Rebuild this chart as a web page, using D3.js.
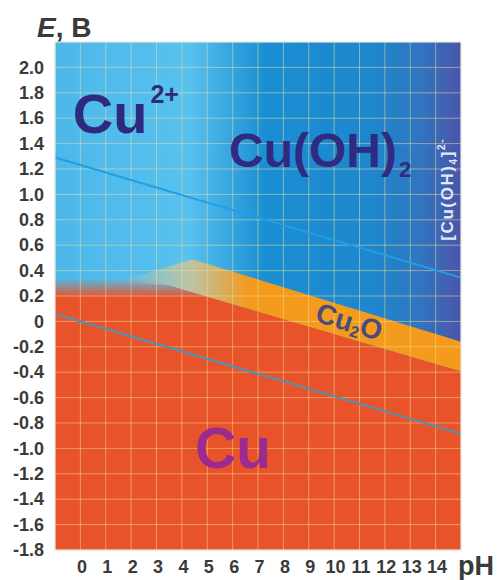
<!DOCTYPE html>
<html>
<head>
<meta charset="utf-8">
<script src="https://cdn.jsdelivr.net/npm/d3@7"></script>
<style>
  body { margin: 0; background: #fff; }
  svg { display: block; font-family: "Liberation Sans", Arial, sans-serif; }
</style>
</head>
<body>
<div id="chart"></div>
<script>
// Pourbaix diagram for copper, E (V) vs pH

var phTicks = [0, 1, 2, 3, 4, 5, 6, 7, 8, 9, 10, 11, 12, 13, 14];
var eTicks = [2.0, 1.8, 1.6, 1.4, 1.2, 1.0, 0.8, 0.6, 0.4, 0.2, 0, -0.2, -0.4, -0.6, -0.8, -1.0, -1.2, -1.4, -1.6, -1.8];
var eLabels = ["2.0", "1.8", "1.6", "1.4", "1.2", "1.0", "0.8", "0.6", "0.4", "0.2", "0", "-0.2", "-0.4", "-0.6", "-0.8", "-1.0", "-1.2", "-1.4", "-1.6", "-1.8"];
var gridPh = [-1, 0, 1, 2, 3, 4, 5, 6, 7, 8, 9, 10, 11, 12, 13, 14, 15];
var gridE = [2.2, 2.0, 1.8, 1.6, 1.4, 1.2, 1.0, 0.8, 0.6, 0.4, 0.2, 0, -0.2, -0.4, -0.6, -0.8, -1.0, -1.2, -1.4, -1.6, -1.8];

// region boundaries [pH, E]
var cuTop = [[-1, 0.35], [2.4, 0.35], [15, -0.395]];
var cu2oRegion = [[1.5, 0.31], [4.4, 0.49], [15, -0.16], [15, -0.395], [3.5, 0.283]];
// water stability lines
var o2Line = [[-1, 1.29], [15, 0.345]];
var h2Line = [[-1, 0.059], [15, -0.885]];

// background colour along pH
var bgStops = [[-1, "#4cb8ea"], [4.3, "#57c1ef"], [7.3, "#1a8ed3"], [11.5, "#1e87cd"], [13.3, "#2e76c1"], [15, "#4a56aa"]];

var labels = [
  {text: "Cu", sup: "2+", ph: -0.3, e: 1.48, size: 56, color: "#2e2a80"},
  {text: "Cu(OH)", sub: "2", ph: 5.86, e: 1.216, size: 48, color: "#302a82"},
  {text: "Cu", ph: 4.52, e: -1.154, size: 57, color: "#9c2b8f"}
];

var width = 499, height = 580;
var x = d3.scaleLinear().domain([-1, 15]).range([55, 461]);
var y = d3.scaleLinear().domain([-1.8, 2.2]).range([550, 42]);

var svg = d3.select("#chart").append("svg")
  .attr("width", width).attr("height", height);

var defs = svg.append("defs");

var bgGrad = defs.append("linearGradient").attr("id", "bg")
  .attr("gradientUnits", "userSpaceOnUse")
  .attr("x1", x(-1)).attr("x2", x(15)).attr("y1", 0).attr("y2", 0);
bgGrad.selectAll("stop").data(bgStops).enter().append("stop")
  .attr("offset", d => (x(d[0]) - x(-1)) / (x(15) - x(-1)))
  .attr("stop-color", d => d[1]);

var redGrad = defs.append("linearGradient").attr("id", "redfade")
  .attr("gradientUnits", "userSpaceOnUse")
  .attr("x1", 0).attr("x2", 0).attr("y1", y(0.34)).attr("y2", y(0.19));
redGrad.append("stop").attr("offset", 0).attr("stop-color", "#e9532a").attr("stop-opacity", 0);
redGrad.append("stop").attr("offset", 1).attr("stop-color", "#e9532a").attr("stop-opacity", 1);

var oxGrad = defs.append("linearGradient").attr("id", "oxfade")
  .attr("gradientUnits", "userSpaceOnUse")
  .attr("x1", x(1.5)).attr("x2", x(6.6)).attr("y1", 0).attr("y2", 0);
oxGrad.append("stop").attr("offset", 0).attr("stop-color", "#f5cc88").attr("stop-opacity", 0);
oxGrad.append("stop").attr("offset", 0.57).attr("stop-color", "#f3c47c").attr("stop-opacity", 0.68);
oxGrad.append("stop").attr("offset", 1).attr("stop-color", "#f49a1c").attr("stop-opacity", 1);

var line = d3.line().x(d => x(d[0])).y(d => y(d[1]));

// background (Cu2+, Cu(OH)2, [Cu(OH)4]2-)
svg.append("rect")
  .attr("x", x(-1)).attr("y", y(2.2))
  .attr("width", x(15) - x(-1)).attr("height", y(-1.8) - y(2.2))
  .attr("fill", "url(#bg)");

// Cu region
var cuPoly = cuTop.concat([[15, -1.8], [-1, -1.8]]);
svg.append("path")
  .attr("d", line(cuPoly) + "Z")
  .attr("fill", "url(#redfade)");

// Cu2O band
svg.append("path")
  .attr("d", line(cu2oRegion) + "Z")
  .attr("fill", "url(#oxfade)");

// grid
svg.append("g").selectAll("line").data(gridPh).enter().append("line")
  .attr("x1", d => x(d)).attr("x2", d => x(d))
  .attr("y1", y(2.2)).attr("y2", y(-1.8))
  .attr("stroke", "#f4e196").attr("stroke-opacity", 0.5).attr("stroke-width", 1);
svg.append("g").selectAll("line").data(gridE).enter().append("line")
  .attr("x1", x(-1)).attr("x2", x(15))
  .attr("y1", d => y(d)).attr("y2", d => y(d))
  .attr("stroke", "#f4e196").attr("stroke-opacity", 0.5).attr("stroke-width", 1);

// water lines
svg.append("path").attr("d", line(o2Line))
  .attr("fill", "none").attr("stroke", "#1f9fe4").attr("stroke-width", 2);
svg.append("path").attr("d", line(h2Line))
  .attr("fill", "none").attr("stroke", "#5b8ea8").attr("stroke-width", 2.2);

// frame
svg.append("rect")
  .attr("x", x(-1)).attr("y", y(2.2))
  .attr("width", x(15) - x(-1)).attr("height", y(-1.8) - y(2.2))
  .attr("fill", "none").attr("stroke", "#dfe7ee").attr("stroke-width", 1);

// species labels
labels.forEach(function(d) {
  var t = svg.append("text")
    .attr("x", x(d.ph)).attr("y", y(d.e))
    .attr("font-size", d.size).attr("font-weight", "bold")
    .attr("fill", d.color)
    .text(d.text);
  if (d.sup) {
    t.append("tspan").attr("dx", 3).attr("dy", -30)
      .attr("font-size", 25).text(d.sup);
  }
  if (d.sub) {
    t.append("tspan").attr("dx", 2).attr("dy", 10)
      .attr("font-size", 22).text(d.sub);
  }
});

// Cu2O label along band
var oxLabel = svg.append("text")
  .attr("transform", "translate(" + x(10.6) + "," + y(0.0) + ") rotate(17)")
  .attr("text-anchor", "middle").attr("dominant-baseline", "central")
  .attr("font-size", 28).attr("font-weight", "bold").attr("fill", "#4a4c7c");
oxLabel.append("tspan").text("Cu");
oxLabel.append("tspan").attr("font-size", 16).attr("dy", 8).text("2");
oxLabel.append("tspan").attr("dy", -8).text("O");

// [Cu(OH)4]2- label, vertical
var hydLabel = svg.append("text")
  .attr("transform", "translate(" + (x(14.45) + 6) + "," + y(1.04) + ") rotate(-90)")
  .attr("text-anchor", "middle").attr("letter-spacing", 1.6)
  .attr("font-size", 17).attr("font-weight", "bold").attr("fill", "#e3e9f6");
hydLabel.append("tspan").text("[Cu(OH)");
hydLabel.append("tspan").attr("font-size", 10).attr("dy", 4).text("4");
hydLabel.append("tspan").attr("dy", -4).text("]");
hydLabel.append("tspan").attr("font-size", 10).attr("dy", -8).text("2-");

// axes
var yAxis = d3.axisLeft(y).tickValues(eTicks)
  .tickFormat((d, i) => eLabels[i]).tickSize(0).tickPadding(11);
var gy = svg.append("g").attr("transform", "translate(" + x(-1) + ",0)").call(yAxis);
gy.select(".domain").remove();
gy.selectAll("text").attr("font-size", 18).attr("font-weight", "bold")
  .attr("fill", "#3a3a3a").attr("font-family", "Liberation Sans, Arial, sans-serif");

var xAxis = d3.axisBottom(x).tickValues(phTicks).tickSize(0).tickPadding(10);
var gx = svg.append("g").attr("transform", "translate(1," + y(-1.8) + ")").call(xAxis);
gx.select(".domain").remove();
gx.selectAll("text").attr("font-size", 18).attr("font-weight", "bold")
  .attr("fill", "#3a3a3a").attr("font-family", "Liberation Sans, Arial, sans-serif");

// axis titles
var eTitle = svg.append("text").attr("x", 37).attr("y", 37)
  .attr("font-size", 28).attr("font-weight", "bold").attr("fill", "#3a3a3a");
eTitle.append("tspan").attr("font-style", "italic").text("E");
eTitle.append("tspan").text(", B");

svg.append("text").attr("x", 458).attr("y", 575)
  .attr("font-size", 27).attr("font-weight", "bold").attr("fill", "#3a3a3a")
  .text("pH");
</script>
</body>
</html>
